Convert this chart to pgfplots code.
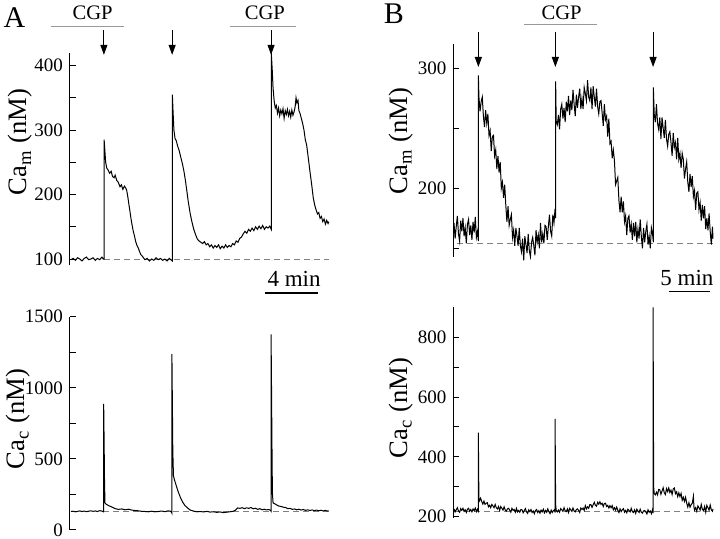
\documentclass[border=0pt]{standalone}
\usepackage{pgfplots}
\pgfplotsset{compat=1.18}
\usepackage{fontspec}
\setmainfont{Liberation Serif}
\usetikzlibrary{arrows.meta}
\pgfplotsset{
  panel/.style={scale only axis, anchor=south west, axis x line=none, axis y line*=left,
    axis line style={-, black, line width=0.5pt}, tick align=inside,
    major tick length=3pt, minor tick length=3pt, tick style={black, line width=0.5pt},
    clip=false, tick label style={font=\fontsize{9.5}{11}\selectfont},
    /pgf/number format/assume math mode=true, /pgf/number format/1000 sep={},
    scaled y ticks=false},
  trace/.style={black, line width=0.5pt, no markers},
  base/.style={gray, dash pattern=on 3pt off 2pt, line width=0.45pt, no markers}
}
\tikzset{arr/.style={-{Triangle[length=5pt,width=3.5pt]}, line width=0.5pt, black},
  cgp/.style={gray!80, line width=0.6pt}}
\newcommand{\lab}{\fontsize{13.3}{15}\selectfont}
\begin{document}
\begin{tikzpicture}
\useasboundingbox (0,0) rectangle (360pt,269.5pt);
% ---------------- A top ----------------
\begin{axis}[panel, at={(35pt,136.75pt)}, width=130.1pt, height=106.45pt,
  xmin=-4.5, xmax=1173.7, ymin=90, ymax=420,
  ytick={100,200,300,400}, minor ytick={150,250,350}]
\addplot[base] coordinates {(150,100)(1170,100)};
\addplot[trace] coordinates {(0,99)(10,101)(20,98)(30,102)(40,100)(50,97)(60,101)(70,103)(80,99)(90,100)(100,102)(110,98)(120,101)(130,99)(140,103)(146,100)(150,100)(150,285)(153,270)(157,250)(162,241)(168,238)(175,233)(182,236)(188,228)(195,226)(200,230)(207,222)(214,219)(222,212)(228,215)(235,208)(242,213)(248,210)(252,207)(258,195)(262,185)(267,174)(272,162)(277,152)(282,143)(288,135)(293,127)(299,121)(305,117)(310,112)(316,107)(322,105)(328,102)(335,99)(345,101)(355,97)(365,100)(375,98)(385,102)(395,99)(405,101)(415,98)(425,100)(435,97)(445,101)(452,99)(459,97)(459,355)(462,330)(466,300)(471,287)(477,283)(483,275)(490,268)(497,258)(505,247)(512,235)(518,222)(524,207)(531,189)(540,170)(548,157)(556,146)(564,138)(572,131)(580,128)(588,126)(596,124)(604,127)(612,122)(620,124)(628,119)(636,122)(644,117)(652,121)(660,118)(668,122)(676,116)(684,120)(692,117)(700,122)(708,118)(716,121)(724,119)(732,124)(740,122)(748,128)(756,126)(764,132)(772,134)(780,139)(788,143)(796,140)(804,146)(812,143)(820,148)(828,144)(836,150)(844,146)(852,151)(860,147)(868,152)(876,146)(884,150)(892,148)(900,151)(907,146)(907,419)(911,395)(915,365)(920,345)(925,334)(930,338)(935,326)(940,334)(945,322)(950,331)(955,325)(960,333)(965,318)(970,330)(975,324)(980,332)(985,322)(990,329)(995,320)(1000,331)(1005,323)(1010,328)(1015,336)(1019,350)(1023,342)(1028,346)(1032,330)(1037,326)(1043,318)(1049,310)(1055,300)(1061,285)(1067,277)(1074,258)(1082,236)(1090,215)(1097,195)(1104,183)(1110,176)(1116,170)(1122,172)(1128,163)(1134,166)(1140,158)(1146,162)(1152,154)(1158,160)(1164,155)(1168,158)};
\draw[cgp] (axis cs:-90,461) -- (axis cs:240,461);
\draw[cgp] (axis cs:720,461) -- (axis cs:1019,461);
\node[font=\fontsize{10.3}{12}\selectfont] at (axis cs:98,482) {CGP};
\node[font=\fontsize{10.3}{12}\selectfont] at (axis cs:878,482) {CGP};
\draw[arr] (axis cs:149,455) -- (axis cs:149,416.5);
\draw[arr] (axis cs:458,455) -- (axis cs:458,416.5);
\draw[arr] (axis cs:906,455) -- (axis cs:906,416.5);
\draw[black, line width=0.6pt] (axis cs:878,47.3) -- (axis cs:1118,47.3);
\node[font=\fontsize{11.5}{13}\selectfont] at (axis cs:1010,69.5) {4 min};
\end{axis}
% ---------------- A bottom ----------------
\begin{axis}[panel, at={(35pt,4.5pt)}, width=130.1pt, height=106.65pt,
  xmin=-4.5, xmax=1173.7, ymin=0, ymax=1500,
  ytick={0,500,1000,1500}, minor ytick={250,750,1250}]
\addplot[base] coordinates {(146,128)(1170,128)};
\addplot[trace] coordinates {(0,130)(10,132)(20,128)(30,131)(40,134)(50,130)(60,133)(70,129)(80,132)(90,135)(100,131)(110,134)(120,130)(130,136)(140,133)(146,128)(148,128)(148,886)(150,620)(152,320)(154,190)(158,183)(165,176)(172,170)(180,165)(190,158)(200,150)(215,145)(230,148)(245,142)(260,146)(275,140)(290,137)(305,135)(320,131)(335,130)(350,128)(365,132)(380,128)(395,130)(410,133)(425,129)(440,135)(450,132)(455,125)(457,118)(457,1237)(459,900)(461,560)(464,380)(469,350)(475,320)(482,285)(490,250)(498,220)(506,195)(516,172)(528,155)(540,140)(555,133)(570,128)(585,130)(600,127)(615,131)(630,126)(645,128)(660,124)(675,127)(690,122)(705,125)(720,128)(735,132)(745,140)(755,155)(765,152)(775,157)(785,150)(795,156)(805,152)(815,158)(825,149)(835,153)(845,145)(855,150)(865,142)(875,146)(885,141)(895,144)(903,138)(906,132)(906,1376)(908,1000)(910,600)(912,260)(915,190)(922,185)(932,175)(942,168)(952,165)(962,160)(972,158)(982,150)(992,152)(1002,145)(1012,148)(1022,142)(1032,146)(1042,140)(1052,144)(1062,138)(1072,142)(1082,137)(1092,141)(1102,136)(1112,140)(1122,135)(1132,139)(1142,134)(1152,138)(1160,133)(1166,136)};
\end{axis}
% ---------------- B top ----------------
\begin{axis}[panel, at={(226.75pt,141pt)}, width=130.15pt, height=106.4pt,
  xmin=-3.6, xmax=1855.7, ymin=142.7, ymax=320,
  ytick={200,300}, minor ytick={150,250}]
\addplot[base] coordinates {(20,154)(1850,154)};
\addplot[trace] coordinates {(0,171)(8,158)(16,168)(24,177)(32,162)(40,156)(48,173)(56,164)(64,175)(72,160)(80,167)(88,154)(96,170)(104,174)(112,161)(120,169)(128,157)(136,172)(144,163)(152,176)(160,159)(168,164)(174,156)(174,294)(178,276)(186,264)(194,272)(202,276)(210,260)(218,251)(226,265)(234,254)(242,262)(250,244)(258,248)(266,231)(274,243)(282,244)(290,227)(298,232)(306,216)(314,227)(322,213)(330,222)(338,200)(346,205)(354,192)(362,203)(370,186)(378,172)(386,185)(394,169)(402,174)(410,178)(418,159)(426,165)(434,152)(442,167)(450,160)(458,152)(466,167)(474,152)(482,147)(490,158)(498,140)(506,160)(514,153)(522,146)(530,162)(538,148)(546,143)(554,155)(562,159)(570,152)(578,144)(586,165)(594,155)(602,161)(610,150)(618,171)(626,155)(634,162)(642,154)(650,169)(658,168)(666,157)(674,168)(682,178)(690,164)(698,160)(706,178)(714,171)(722,183)(726,175)(726,289)(730,256)(738,253)(746,261)(754,249)(762,266)(770,270)(778,258)(786,267)(794,255)(802,272)(810,264)(818,277)(826,261)(834,273)(842,265)(850,282)(858,270)(866,260)(874,278)(882,267)(890,276)(898,283)(906,266)(914,275)(922,266)(930,284)(938,279)(946,273)(954,290)(962,276)(970,273)(978,284)(986,266)(994,285)(1002,276)(1010,268)(1018,283)(1026,268)(1034,262)(1042,272)(1050,273)(1058,263)(1066,252)(1074,270)(1082,257)(1090,260)(1098,243)(1106,258)(1114,237)(1122,239)(1130,225)(1138,232)(1146,223)(1154,203)(1162,206)(1170,209)(1178,190)(1186,180)(1194,193)(1202,180)(1210,189)(1218,172)(1226,177)(1234,161)(1242,175)(1250,177)(1258,163)(1266,170)(1274,157)(1282,171)(1290,160)(1298,172)(1306,155)(1314,166)(1322,158)(1330,174)(1338,160)(1346,150)(1354,167)(1362,155)(1370,164)(1378,170)(1386,153)(1394,160)(1402,150)(1410,167)(1418,162)(1424,155)(1424,284)(1430,262)(1438,255)(1446,270)(1454,254)(1462,249)(1470,259)(1478,241)(1486,259)(1494,250)(1502,242)(1510,257)(1518,241)(1526,235)(1534,245)(1542,247)(1550,238)(1558,227)(1566,246)(1574,234)(1582,238)(1590,224)(1598,242)(1606,224)(1614,229)(1622,217)(1630,229)(1638,224)(1646,208)(1654,216)(1662,222)(1670,205)(1678,197)(1686,212)(1694,201)(1702,210)(1710,193)(1718,198)(1726,182)(1734,196)(1742,197)(1750,182)(1758,188)(1766,173)(1774,186)(1782,175)(1790,185)(1798,166)(1806,175)(1814,165)(1822,179)(1830,164)(1838,153)(1846,168)(1850,158)};
\draw[cgp] (axis cs:502,336.7) -- (axis cs:1019,336.7);
\node[font=\fontsize{10.3}{12}\selectfont] at (axis cs:769,346) {CGP};
\draw[arr] (axis cs:174,330.3) -- (axis cs:174,301);
\draw[arr] (axis cs:724,330.3) -- (axis cs:724,301);
\draw[arr] (axis cs:1422,330.3) -- (axis cs:1422,301);
\draw[black, line width=0.6pt] (axis cs:1536,113.8) -- (axis cs:1829,113.8);
\node[font=\fontsize{11.5}{13}\selectfont] at (axis cs:1664,125) {5 min};
\end{axis}
% ---------------- B bottom ----------------
\begin{axis}[panel, at={(226.75pt,10.7pt)}, width=130.15pt, height=105.1pt,
  xmin=-3.6, xmax=1855.7, ymin=197, ymax=900,
  ytick={200,400,600,800}, minor ytick={300,500,700}]
\addplot[base] coordinates {(0,216)(1850,216)};
\addplot[trace] coordinates {(0,226)(8,216)(16,223)(24,230)(32,219)(40,215)(48,227)(56,221)(64,228)(72,218)(80,223)(88,214)(96,225)(104,228)(112,218)(120,224)(128,216)(136,226)(144,220)(152,229)(160,217)(168,225)(174,219)(174,481)(176,350)(178,262)(182,253)(190,262)(198,251)(206,242)(214,252)(222,241)(230,245)(238,247)(246,233)(254,238)(262,230)(270,241)(278,236)(286,230)(294,241)(302,230)(310,226)(318,234)(326,221)(334,234)(342,228)(350,222)(358,233)(366,222)(374,219)(382,226)(390,228)(398,222)(406,215)(414,228)(422,221)(430,224)(438,215)(446,228)(454,216)(462,221)(470,215)(478,224)(486,223)(494,213)(502,220)(510,227)(518,216)(526,211)(534,223)(542,217)(550,224)(558,214)(566,219)(574,210)(582,221)(590,224)(598,214)(606,220)(614,212)(622,222)(630,216)(638,225)(646,213)(654,221)(662,215)(670,226)(678,217)(686,210)(694,222)(702,214)(710,220)(718,224)(722,214)(722,527)(724,380)(726,240)(730,222)(738,216)(746,222)(754,215)(762,227)(770,223)(778,218)(786,230)(794,220)(802,217)(810,226)(818,214)(826,228)(834,223)(842,218)(850,229)(858,219)(866,216)(874,224)(882,226)(890,221)(898,214)(906,229)(914,224)(922,229)(930,221)(938,237)(946,226)(954,233)(962,228)(970,240)(978,240)(986,231)(994,240)(1002,248)(1010,238)(1018,235)(1026,248)(1034,242)(1042,250)(1050,241)(1058,245)(1066,234)(1074,244)(1082,245)(1090,234)(1098,238)(1106,229)(1114,237)(1122,230)(1130,237)(1138,223)(1146,230)(1154,222)(1162,232)(1170,221)(1178,214)(1186,226)(1194,217)(1202,223)(1210,227)(1218,215)(1226,221)(1234,213)(1242,225)(1250,221)(1258,216)(1266,228)(1274,217)(1282,214)(1290,223)(1298,211)(1306,225)(1314,219)(1322,214)(1330,225)(1338,215)(1346,212)(1354,219)(1362,221)(1370,216)(1378,209)(1386,223)(1394,215)(1402,219)(1410,210)(1418,224)(1422,212)(1422,900)(1424,600)(1426,300)(1430,278)(1438,273)(1446,282)(1454,273)(1462,291)(1470,290)(1478,275)(1486,286)(1494,297)(1502,280)(1510,274)(1518,294)(1526,284)(1534,296)(1542,281)(1550,289)(1558,274)(1566,293)(1574,296)(1582,277)(1590,283)(1598,267)(1606,280)(1614,267)(1622,278)(1630,255)(1638,265)(1646,251)(1654,265)(1662,246)(1670,232)(1678,247)(1686,232)(1694,240)(1702,245)(1710,268)(1714,232)(1718,222)(1726,230)(1734,218)(1742,236)(1750,230)(1758,222)(1766,241)(1774,225)(1782,220)(1790,234)(1798,215)(1806,238)(1814,230)(1822,222)(1830,239)(1838,223)(1846,218)(1850,226)};
\end{axis}
% ---------------- labels ----------------
\node[font=\fontsize{15}{17}\selectfont] at (7.25pt,260.75pt) {A};
\node[font=\fontsize{15}{17}\selectfont] at (197pt,262.5pt) {B};
\node[rotate=90, font=\lab] at (10.25pt,198.5pt) {Ca\textsubscript{m} (nM)};
\node[rotate=90, font=\lab] at (9pt,60pt) {Ca\textsubscript{c} (nM)};
\node[rotate=90, font=\lab] at (200.5pt,199pt) {Ca\textsubscript{m} (nM)};
\node[rotate=90, font=\lab] at (200.5pt,65.5pt) {Ca\textsubscript{c} (nM)};
\end{tikzpicture}
\end{document}
